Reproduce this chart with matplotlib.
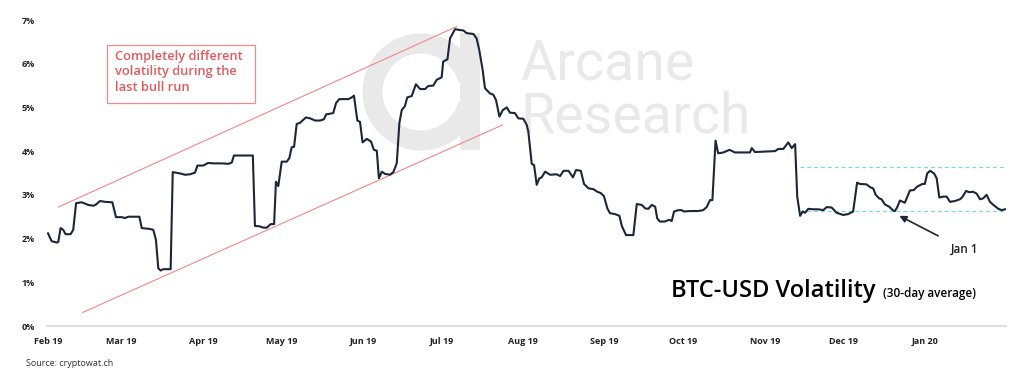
import numpy as np
import pandas as pd
import matplotlib
matplotlib.use("Agg")
import matplotlib.pyplot as plt
import matplotlib.dates as mdates
from matplotlib.patches import Arc, Rectangle

plt.rcParams['font.family'] = ['Open Sans', 'DejaVu Sans']

# ---- data: days since 1 Feb 2019, 30-day volatility in % ----
days = [0, 1.4, 3.3, 3.9, 4.8, 5.8, 6.7, 8.6, 9.6, 10.7, 12.8, 13.7, 15.3, 17.3, 18.3, 19.8,
        21.7, 24.5, 25.9, 28.1, 29.3, 30.6, 34.8, 35.7, 38.8, 40.1, 41.1, 42.0, 42.9, 43.9,
        46.7, 47.5, 50.3, 52.2, 54.1, 56.0, 56.9, 59.1, 61.0, 62.9, 66.1, 68.7, 70.0, 70.8,
        73.1, 78.0, 78.8, 80.5, 82.0, 83.3, 84.8, 86.1, 86.8, 87.7, 89.0, 90.9, 91.9, 92.8,
        93.7, 94.7, 96.0, 98.2, 99.8, 101.7, 103.6, 105.1, 105.9, 108.6, 109.7, 110.9, 114.4,
        115.7, 116.5, 117.8, 118.8, 119.8, 121.4, 123.0, 124.1, 125.2, 126.0, 127.1, 128.3,
        130.2, 131.5, 132.8, 133.8, 134.7, 135.9, 136.8, 138.5, 140.1, 141.7, 143.6, 144.8,
        146.7, 148.0, 149.9, 150.5, 152.1, 153.1, 155.0, 156.9, 158.2, 159.4, 162.0, 163.2,
        164.2, 165.5, 166.4, 168.3, 169.6, 170.6, 171.9, 173.2, 174.7, 175.9, 177.8, 179.1,
        181.0, 182.3, 182.9, 184.2, 185.1, 186.1, 187.1, 188.0, 189.3, 191.2, 193.7, 195.0,
        196.3, 198.2, 199.9, 201.1, 202.9, 204.1, 205.8, 207.7, 209.2, 210.5, 211.7, 213.0,
        214.0, 215.9, 217.6, 218.5, 220.1, 222.9, 224.2, 226.1, 227.4, 228.6, 229.9, 231.2,
        232.0, 233.0, 234.9, 236.6, 237.5, 238.4, 240.0, 241.3, 242.2, 244.5, 247.6, 249.5,
        250.8, 252.1, 253.0, 254.2, 255.2, 257.2, 259.5, 261.6, 267.3, 268.0, 269.2, 276.8,
        278.1, 280.0, 281.9, 283.2, 284.5, 285.3, 286.4, 287.4, 288.3, 289.5, 291.4, 293.3,
        295.2, 296.5, 298.4, 300.3, 302.8, 304.7, 306.6, 308.1, 309.1, 311.7, 313.2, 314.2,
        315.2, 316.5, 317.4, 318.7, 320.3, 321.9, 322.5, 323.4, 324.4, 326.3, 328.2, 329.7,
        331.0, 333.0, 333.9, 334.8, 335.9, 337.4, 338.4, 339.4, 340.9, 342.2, 343.5, 345.4,
        347.3, 348.3, 349.6, 350.8, 352.3, 353.6, 354.9, 356.1, 357.4, 358.7, 360.0, 361.9,
        363.2, 364.4]
volatility = [2.12, 1.94, 1.91, 1.92, 2.24, 2.20, 2.10, 2.10, 2.20, 2.81, 2.83, 2.81, 2.77, 2.75, 2.78, 2.86,
              2.84, 2.83, 2.49, 2.49, 2.47, 2.50, 2.50, 2.24, 2.22, 2.20, 1.97, 1.32, 1.27, 1.30,
              1.30, 3.52, 3.49, 3.46, 3.47, 3.51, 3.67, 3.67, 3.73, 3.72, 3.72, 3.71, 3.74, 3.90,
              3.90, 3.90, 2.29, 2.28, 2.25, 2.25, 2.33, 2.33, 3.30, 3.20, 3.76, 3.76, 3.84, 4.09,
              4.10, 4.62, 4.65, 4.77, 4.75, 4.70, 4.70, 4.73, 4.84, 4.87, 5.10, 5.19, 5.19,
              5.23, 5.27, 4.70, 4.67, 4.20, 4.28, 4.22, 4.03, 4.01, 3.38, 3.53, 3.48,
              3.46, 3.52, 3.72, 4.64, 4.94, 5.03, 5.23, 5.26, 5.53, 5.42, 5.42, 5.49,
              5.50, 5.63, 5.69, 6.05, 6.10, 6.58, 6.79, 6.77, 6.76, 6.70, 6.68, 6.58,
              6.32, 5.86, 5.44, 5.32, 5.29, 5.17, 4.79, 4.94, 5.00, 4.88, 4.87, 4.75,
              4.74, 4.60, 4.45, 3.71, 3.68, 3.23, 3.38, 3.40, 3.53, 3.46, 3.47, 3.43,
              3.55, 3.55, 3.40, 3.57, 3.55, 3.25, 3.15, 3.13, 3.07, 3.04, 2.97, 2.69,
              2.58, 2.56, 2.52, 2.29, 2.08, 2.08, 2.79, 2.77, 2.69, 2.68, 2.77, 2.73,
              2.46, 2.39, 2.39, 2.43, 2.40, 2.62, 2.65, 2.65, 2.62, 2.63, 2.63, 2.65,
              2.72, 2.88, 2.88, 4.24, 3.95, 3.97, 4.03, 3.97, 3.97, 4.07, 3.98, 4.00,
              4.05, 4.05, 4.20, 4.07, 4.16, 2.96, 2.52, 2.62, 2.59, 2.68, 2.67, 2.67,
              2.65, 2.72, 2.71, 2.59, 2.54, 2.56, 2.62, 3.28, 3.25, 3.24, 3.17, 3.15,
              3.00, 2.92, 2.90, 2.78, 2.73, 2.64, 2.63, 2.72, 2.87, 2.82, 3.10, 3.11,
              3.19, 3.25, 3.25, 3.49, 3.55, 3.49, 3.38, 2.94, 2.96, 2.96, 2.84, 2.86,
              2.90, 2.96, 3.09, 3.06, 3.07, 3.03, 2.90, 2.92, 3.00, 2.84, 2.77, 2.68,
              2.65, 2.67]
month_labels = ["Feb 19", "Mar 19", "Apr 19", "May 19", "Jun 19", "Jul 19",
                "Aug 19", "Sep 19", "Oct 19", "Nov 19", "Dec 19", "Jan 20"]
ytick_values = [0, 1, 2, 3, 4, 5, 6, 7]
range_levels = [2.64, 3.63]

start = mdates.date2num(pd.Timestamp("2019-02-01"))
x = start + np.array(days)
y = np.array(volatility)

fig = plt.figure(figsize=(10.24, 3.71), dpi=100)
ax = fig.add_axes([47 / 1024, 45 / 371, 959 / 1024, 306 / 371])
ax.patch.set_alpha(0)

# watermark (figure fraction)
wm_color = "#e9e9e9"
ax.text(520 / 1024, 1 - 80 / 371, "Arcane", transform=fig.transFigure, fontsize=40,
        color=wm_color, family="Roboto", fontweight="normal", zorder=0, ha="left", va="baseline")
ax.text(520 / 1024, 1 - 133 / 371, "Research", transform=fig.transFigure, fontsize=40,
        color=wm_color, family="Roboto", fontweight="normal", zorder=0, ha="left", va="baseline")
ring = Arc((421 / 1024, 1 - 92 / 371), 97 / 1024, 97 / 371, theta1=35, theta2=325,
           transform=fig.transFigure, color=wm_color, lw=14.4, zorder=0, clip_on=False)
ax.add_patch(ring)
stem = Rectangle((460 / 1024, 1 - 150 / 371), 20 / 1024, 117 / 371, transform=fig.transFigure,
                 color=wm_color, zorder=0, clip_on=False, lw=0)
ax.add_patch(stem)

# main series
ax.plot(x, y, color="#1b2638", lw=1.5, zorder=3, solid_joinstyle="round")

# red trend channel
red = "#ef8a8a"
ax.plot([start + 3.9, start + 155.6], [2.72, 6.85], color=red, lw=0.8, zorder=2)
ax.plot([start + 13.2, start + 173.1], [0.31, 4.60], color=red, lw=0.8, zorder=2)

# teal range lines
for lvl in range_levels:
    ax.plot([start + 286.4, start + 364.4], [lvl, lvl], color="#7fd8d8", lw=0.9,
            ls=(0, (3, 2.5)), zorder=2)

# axes styling
ax.set_ylim(0, 7)
ax.set_xlim(start - 0.38, start + 364.8)
ax.set_yticks(ytick_values)
ax.set_yticklabels([f"{v}%" for v in ytick_values], fontsize=6.5, fontweight="bold", color="#222222")
ticks = mdates.date2num(pd.date_range("2019-02-01", periods=len(month_labels), freq="MS"))
ax.set_xticks(ticks)
ax.set_xticklabels(month_labels, fontsize=6.5, fontweight="bold", color="#222222")
ax.tick_params(axis="both", length=0)
ax.tick_params(axis="y", pad=9)
ax.tick_params(axis="x", pad=8)
for s in ["top", "right", "left"]:
    ax.spines[s].set_visible(False)
ax.spines["bottom"].set_color("#dedede")
ax.spines["bottom"].set_linewidth(1.5)

# annotation box
fig.patches.append(Rectangle((107 / 1024, 1 - 103 / 371), 148 / 1024, 58 / 371,
                             transform=fig.transFigure, fill=False, edgecolor="#ec8e8e", lw=0.9))
fig.text(115 / 1024, 1 - 50 / 371, "Completely different\nvolatility during the\nlast bull run",
         fontsize=9.3, color="#e45a5a", fontweight="semibold", va="top", ha="left",
         linespacing=1.25)

# Jan 1 arrow
ax.annotate("Jan 1", xy=(start + 324.2, 2.52), xytext=(start + 349.0, 1.75),
            fontsize=8.5, fontweight="semibold", color="#222222", ha="center", va="center",
            arrowprops=dict(arrowstyle="-|>", color="#1b2638", lw=1.2, mutation_scale=10,
                            shrinkA=8, shrinkB=0))

# title
fig.text(671 / 1024, 1 - 291 / 371, "BTC-USD Volatility", fontsize=17, fontweight="semibold",
         color="#000000", ha="left", va="center")
fig.text(883 / 1024, 1 - 294 / 371, "(30-day average)", fontsize=8.5, fontweight="semibold",
         color="#000000", ha="left", va="center")

fig.text(26 / 1024, 1 - 364 / 371, "Source: cryptowat.ch", fontsize=6.5, color="#333333",
         ha="left", va="center")

fig.savefig("out.png", dpi=100, facecolor="white")
